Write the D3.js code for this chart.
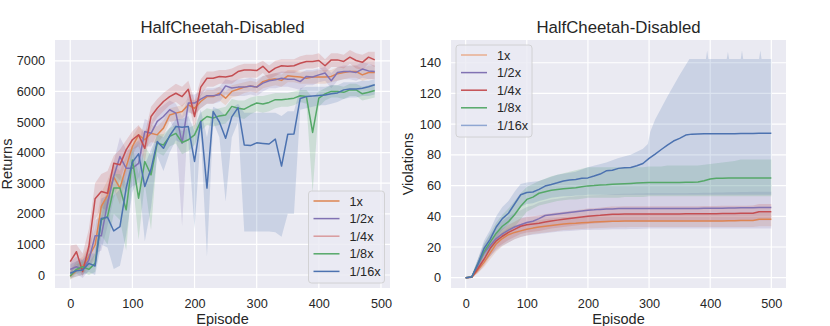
<!DOCTYPE html>
<html>
<head>
<meta charset="utf-8">
<script src="https://cdn.jsdelivr.net/npm/d3@7"></script>
<style>
  body { margin: 0; background: #fff; }
  svg { display: block; font-family: Arial, "Liberation Sans", sans-serif; }
</style>
</head>
<body>
<div id="chart"></div>
<script>
const seriesNames = ['1x', '1/2x', '1/4x', '1/8x', '1/16x'];
const seriesColors = ['#dd8452', '#8172b3', '#c44e52', '#55a868', '#4c72b0'];

// ---- returns (left) : every 10 episodes, 0..490
const returnsEp = d3.range(0, 500, 10);
const returnsXTicks = [0, 100, 200, 300, 400, 500];
const returnsYTicks = [0, 1000, 2000, 3000, 4000, 5000, 6000, 7000];

const returns1x = [-50,140,270,600,980,2240,2600,3200,2840,3540,
  4200,4580,4420,4630,4580,4800,5230,5290,5340,5560,
  5450,5670,5830,5830,5940,5780,6000,6070,6140,6180,
  6140,6320,6380,6410,6360,6510,6490,6470,6430,6470,
  6470,6470,6490,6580,6620,6650,6650,6540,6620,6620];
const returns1xLo = [-150,-50,0,250,500,1800,2200,2800,2300,3200,
  3900,4300,4100,4350,4300,4550,5000,5050,5100,5350,
  5200,5450,5600,5600,5700,5550,5800,5850,5950,6000,
  5950,6100,6150,6200,6150,6300,6300,6250,6250,6250,
  6250,6250,6300,6350,6400,6450,6450,6350,6400,6400];
const returns1xHi = [150,450,600,1000,1500,2700,3100,3600,3400,3900,
  4500,4850,4700,4900,4850,5050,5450,5500,5550,5750,
  5700,5900,6050,6050,6150,6000,6200,6250,6300,6350,
  6300,6500,6550,6600,6550,6700,6700,6650,6650,6650,
  6700,6700,6700,6800,6800,6850,6850,6750,6850,6850];

const returns2x = [185,270,185,490,1280,1280,2340,3220,3870,3490,
  3490,3650,4690,4630,5020,5180,5400,5290,4310,5620,
  5620,5750,5860,5860,5890,6180,6110,6140,6140,6180,
  6140,6270,6350,6380,6430,6400,6400,6320,6490,6470,
  6540,6600,6350,6620,6650,6650,6620,6730,6670,6650];
const returns2xLo = [0,50,-100,150,700,800,1600,2500,3100,2700,
  2900,3000,4200,4200,4600,4800,5050,4700,1600,5300,
  5250,5450,5600,5600,5650,5900,5850,5850,5850,5900,
  5850,6000,6100,6100,6150,6150,6100,6050,6200,6200,
  6300,6350,6100,6350,6400,6400,6350,6450,6400,6400];
const returns2xHi = [450,600,500,900,1800,1900,2900,3700,4500,4100,
  4100,4300,5100,5000,5400,5550,5700,5600,5200,5900,
  5900,6000,6100,6100,6150,6400,6350,6400,6400,6450,
  6400,6500,6550,6600,6650,6650,6650,6600,6700,6700,
  6750,6800,6600,6800,6850,6850,6850,6950,6900,6850];

const returns4x = [440,760,110,930,2490,2730,2670,3650,3600,4090,
  4420,4580,4140,5180,5450,5670,5830,5940,5830,6070,
  5180,6140,6430,6430,6490,6470,6510,6650,6700,6700,
  6680,6820,6620,6760,6840,6820,6840,6920,6980,6980,
  7010,6840,7030,7030,6980,7120,7010,6950,7120,7030];
const returns4xLo = [0,350,-50,500,1800,2200,2100,3300,3100,3700,
  4100,4200,3700,4850,5150,5350,5550,5650,5500,5750,
  4700,5850,6150,6150,6250,6250,6250,6400,6450,6450,
  6450,6600,6400,6500,6600,6600,6600,6700,6750,6750,
  6800,6600,6800,6800,6750,6900,6750,6700,6900,6800];
const returns4xHi = [960,1000,700,1500,3000,3300,3400,3900,4100,4400,
  4700,4900,4600,5500,5750,5950,6100,6250,6150,6350,
  5700,6400,6650,6650,6700,6700,6750,6850,6900,6900,
  6900,7000,6850,7000,7050,7050,7050,7150,7200,7200,
  7250,7050,7250,7250,7200,7350,7250,7200,7300,7300];

const returns8x = [-30,185,270,185,380,1800,1910,2840,2840,2130,
  3760,2510,3710,3270,4310,4250,4530,4630,4330,4420,
  4580,5020,5180,5130,5200,5230,5510,5450,5420,5530,
  5620,5590,5640,5730,5730,5750,5780,5860,5830,4660,
  5780,5920,6000,6000,5970,6050,6050,5920,5970,6030];
const returns8xLo = [-150,50,100,0,100,1300,1000,2000,1800,800,
  3200,1150,3000,1470,4000,3900,4200,4300,3950,4050,
  4250,4700,4900,4850,4900,4950,5200,5150,5100,5250,
  5350,5300,5350,5450,5500,5500,5550,5650,5600,2700,
  5500,5700,5800,5800,5750,5850,5850,5700,5750,5800];
const returns8xHi = [100,350,450,400,700,2300,2500,3300,3300,3000,
  4200,3300,4200,3900,4600,4600,4800,4900,4700,4800,
  4900,5300,5450,5400,5450,5500,5750,5700,5700,5800,
  5850,5850,5900,5950,5950,5950,6000,6050,6050,5800,
  6000,6100,6200,6200,6150,6250,6250,6150,6200,6250];

const returns16x = [55,140,165,380,295,1850,1890,1440,1580,2840,
  3690,3960,2890,3460,4360,4140,4550,4850,4830,4850,
  3710,5020,2840,5340,5000,4470,5170,5470,4250,4230,
  4320,4300,4280,4440,3560,4600,4610,5770,5830,5850,
  5870,5880,5920,5950,6050,6080,6080,6100,6150,6220];
const returns16xLo = [-100,-50,0,100,0,1000,900,200,300,1300,
  2700,3200,1100,2200,3900,3400,4000,4400,4300,4400,
  1500,4600,600,5000,4500,2400,4500,5000,1420,1420,
  1420,1420,1420,1400,1250,2000,2000,5400,5450,5500,
  5550,5550,5600,5650,5750,5800,5800,5850,5850,5900];
const returns16xHi = [350,450,500,700,700,2500,2600,2600,2800,3500,
  4200,4400,3600,4100,4600,4500,4800,5100,5100,5200,
  4700,5400,4500,5500,5400,5200,5450,5600,5300,5300,
  5300,5300,5300,5300,5200,5350,5350,6100,6150,6150,
  6150,6150,6200,6200,6300,6300,6300,6350,6350,6400];

// ---- violations (right) : every 10 episodes, 0..500
const violEp = d3.range(0, 510, 10);
const violXTicks = [0, 100, 200, 300, 400, 500];
const violYTicks = [0, 20, 40, 60, 80, 100, 120, 140];

const viol1x = [0,0.3,5,10,16,22,25.5,28,29.5,30.5,
  31.5,32.3,33,33.5,34,34.5,35,35.3,35.5,35.8,
  36,36.2,36.4,36.6,36.7,36.8,36.9,37,37,37,
  37,37,37,37,37,37,37,37,37,37,
  37,37,37,37.1,37.1,37.2,37.2,37.3,38,38,38];
const viol1xLo = [0,0,3,7,12,17,20.5,23,25,26.5,
  27.5,28.5,29,29.5,30,30.5,31,31.3,31.5,31.8,
  32,32.2,32.4,32.6,32.7,32.8,32.9,33,33,33,
  33,33,33,33,33,33,33,33,33,33,
  33,33,33,33,33,33,33,33,33.5,33.5,33.5];
const viol1xHi = [0,1,7,13,20,26,30,32.5,34,35,
  36,36.8,37.5,38,38.5,39,39.5,39.8,40,40.3,
  40.5,40.7,40.9,41,41,41.1,41.2,41.3,41.3,41.3,
  41.3,41.3,41.3,41.3,41.3,41.3,41.3,41.3,41.3,41.3,
  41.3,41.3,41.3,41.4,41.4,41.5,41.5,41.6,42.3,42.3,42.3];

const viol2x = [0,0.5,8,16,21,25.5,28.5,31,33,34.5,
  36,36.8,38.5,40.5,41,41.5,42,42.5,43,43.5,
  44,44.2,44.5,44.7,44.8,45,45,45,45,45,
  45,45,45,45,45,45,45,45.1,45.1,45.2,
  45.2,45.3,45.3,45.4,45.4,45.5,45.5,45.6,45.7,45.8,45.8];
const viol2xLo = [0,0,4,10,14,18,21,23,25,26.5,
  27.5,28,28.5,29,29.5,30,30.3,30.5,30.8,31,
  31,31.2,31.3,31.4,31.5,31.5,31.6,31.7,31.8,31.9,
  32,32,32,32,32,32,32,32,32,32,
  32,32,32,32,32,32,32,32,32,32,32];
const viol2xHi = [0,1.5,12,22,28,33,37,40,42,44,
  46,47,49,50,51,51.5,52,52.5,53,53.2,
  53.5,53.7,53.9,54.1,54.3,54.5,54.6,54.7,54.8,54.9,
  55,55,55,55,55,55,55,55.1,55.2,55.3,
  55.4,55.5,55.5,55.6,55.7,55.8,55.8,55.9,56,56,56];

const viol4x = [0,0.3,6,12,19,24,27,29.5,31.5,33.5,
  34.5,35,35.5,36.3,37,37.5,38,38.5,39,39.5,
  40,40.3,40.6,41,41.3,41.4,41.5,41.5,41.5,41.5,
  41.5,41.5,41.5,41.5,41.5,41.5,41.6,41.6,41.6,41.7,
  41.7,41.7,41.8,41.8,41.8,41.9,41.9,42,43,43,43];
const viol4xLo = [0,0,3,8,14,19,22,24.5,26.5,28.5,
  29.5,30,30.5,31.3,32,32.5,33,33.5,34,34.5,
  35,35.3,35.6,36,36.3,36.4,36.5,36.5,36.5,36.5,
  36.5,36.5,36.5,36.5,36.5,36.5,36.6,36.6,36.6,36.7,
  36.7,36.7,36.8,36.8,36.8,36.9,36.9,37,37.5,37.5,37.5];
const viol4xHi = [0,1,9,16,24,29,32,34.5,36.5,38.5,
  39.5,40,40.5,41.3,42,42.5,43,43.5,44,44.5,
  45,45.3,45.6,46,46.3,46.4,46.5,46.5,46.5,46.5,
  46.5,46.5,46.5,46.5,46.5,46.5,46.6,46.6,46.6,46.7,
  46.7,46.7,46.8,46.8,46.8,46.9,46.9,47,48,48,48];

const viol8x = [0,0.5,9,17,23,29,33.5,36.5,41,46.5,
  51,52.5,55,56,57,57.5,58,58.3,58.6,59.2,
  59.8,60,60.3,60.5,60.8,61,61.2,61.4,61.6,61.8,
  62,62,62,62,62,62,62.1,62.2,62.4,63.2,
  64.3,64.7,64.8,64.9,65,65,65,65,65,65,65];
const viol8xLo = [0,0,6,12,17,22,26,29,33,38,
  43,45,47,48,49,50,50.5,51,51,51.5,
  52,52,52,52,52,52,52.5,52.5,52.5,52.5,
  53,53,53,53,53,53,53,53,53,53,
  53,53,53,53,53,53,53,53,53,53,53];
const viol8xHi = [0,1.5,12,22,29,36,41,45,50,55,
  59,61,63,64.5,66,67,68,69,70,71,
  72,72,72,72,72,72,72,72,72,72,
  72.5,72.5,72.5,73,73,73,73,73,73,73.5,
  74,74.5,75,75.5,76,77,77,77,77,77,77];

const viol16x = [0,0.5,9,19,25,33,38.5,42,48,54,
  55.5,55.8,57.5,59.7,60.7,61.8,63,63.6,64,64.7,
  65,66.2,67.5,69.6,70,71.2,71.6,71.8,72.9,74.4,
  77.7,80.5,83.5,86.3,89,90.7,92.9,93.5,93.6,93.7,
  93.7,93.7,93.8,93.8,93.8,93.9,93.9,93.9,94,94,94];
const viol16xLo = [0,0,6,14,19,26,31,35,41,46,
  48,48.5,50,51,52,52.5,53,53,53.5,53.5,
  54,54,54,54,54,54,54,54,54,54,
  54,54,54,54,54,54,54,54,54,54,
  54,54,54,54,54,54,54,54,54,54,54];
// the 1/16x upper band has its own sampling (sharp spikes late on)
const viol16xHiEp = [0,10,20,30,40,50,60,70,80,90,100,120,150,180,200,230,250,270,290,
  298,302,310,330,350,366,380,393,395,397,427,429,431,450,452,454,480,482,484,500];
const viol16xHi = [0,1.5,12,24,31,40,46,50,56,61,62,63,67,69,72,75,78,80,84,
  87,95,103,118,132,142.5,142.5,142.5,148,142.5,142.5,147,142.5,142.5,148,142.5,142.5,148,142.5,142.5];

const returnsLegendColors = ['#dd8452', '#8172b3', '#d99a9c', '#55a868', '#4c72b0'];
const violLegendColors = ['#e8ae8f', '#8172b3', '#c44e52', '#55a868', '#8fa6d2'];

function band(ep, lo, hi) {
    return {loEp: ep, lo: lo, hiEp: ep, hi: hi};
}

const returnsSeries = [
    {mean: returns1x, band: band(returnsEp, returns1xLo, returns1xHi)},
    {mean: returns2x, band: band(returnsEp, returns2xLo, returns2xHi)},
    {mean: returns4x, band: band(returnsEp, returns4xLo, returns4xHi)},
    {mean: returns8x, band: band(returnsEp, returns8xLo, returns8xHi)},
    {mean: returns16x, band: band(returnsEp, returns16xLo, returns16xHi)}
];
const violSeries = [
    {mean: viol1x, band: band(violEp, viol1xLo, viol1xHi)},
    {mean: viol2x, band: band(violEp, viol2xLo, viol2xHi)},
    {mean: viol4x, band: band(violEp, viol4xLo, viol4xHi)},
    {mean: viol8x, band: band(violEp, viol8xLo, viol8xHi)},
    {mean: viol16x, band: {loEp: violEp, lo: viol16xLo, hiEp: viol16xHiEp, hi: viol16xHi}}
];

const svg = d3.select('#chart').append('svg')
    .attr('width', 830)
    .attr('height', 326);

function drawPanel(cfg) {
    let x = d3.scaleLinear().domain(cfg.xDomain).range([cfg.left, cfg.right]);
    let y = d3.scaleLinear().domain(cfg.yDomain).range([cfg.bottom, cfg.top]);
    let g = svg.append('g');

    g.append('rect')
        .attr('x', cfg.left).attr('y', cfg.top)
        .attr('width', cfg.right - cfg.left).attr('height', cfg.bottom - cfg.top)
        .attr('fill', '#eaeaf2');

    g.selectAll('.gx').data(cfg.xTicks).enter().append('line')
        .attr('x1', d => x(d)).attr('x2', d => x(d))
        .attr('y1', cfg.top).attr('y2', cfg.bottom)
        .attr('stroke', '#fff').attr('stroke-width', 1.2);
    g.selectAll('.gy').data(cfg.yTicks).enter().append('line')
        .attr('x1', cfg.left).attr('x2', cfg.right)
        .attr('y1', d => y(d)).attr('y2', d => y(d))
        .attr('stroke', '#fff').attr('stroke-width', 1.2);

    let xAxis = g.append('g')
        .attr('transform', 'translate(0,' + cfg.bottom + ')')
        .call(d3.axisBottom(x).tickValues(cfg.xTicks).tickSize(0).tickPadding(11));
    let yAxis = g.append('g')
        .attr('transform', 'translate(' + cfg.left + ',0)')
        .call(d3.axisLeft(y).tickValues(cfg.yTicks).tickSize(0).tickPadding(10).tickFormat(d3.format('d')));
    [xAxis, yAxis].forEach(a => {
        a.select('.domain').remove();
        a.selectAll('text')
            .style('font-family', 'Arial, "Liberation Sans", sans-serif')
            .style('font-size', '12.7px')
            .attr('fill', '#262626');
    });

    let clipId = 'clip' + cfg.left;
    svg.append('clipPath').attr('id', clipId).append('rect')
        .attr('x', cfg.left).attr('y', cfg.top)
        .attr('width', cfg.right - cfg.left).attr('height', cfg.bottom - cfg.top);
    let plot = g.append('g').attr('clip-path', 'url(#' + clipId + ')');

    let poly = d3.line().x(d => x(d[0])).y(d => y(d[1]));
    let line = d3.line().x(d => x(d[0])).y(d => y(d[1]));

    cfg.series.forEach((s, i) => {
        let b = s.band;
        let pts = d3.zip(b.hiEp, b.hi).concat(d3.zip(b.loEp, b.lo).reverse());
        plot.append('path')
            .attr('d', poly(pts) + 'Z')
            .attr('fill', seriesColors[i])
            .attr('fill-opacity', 0.2)
            .attr('stroke', 'none');
    });
    cfg.series.forEach((s, i) => {
        plot.append('path')
            .attr('d', line(d3.zip(cfg.ep, s.mean)))
            .attr('fill', 'none')
            .attr('stroke', seriesColors[i])
            .attr('stroke-width', 1.5)
            .attr('stroke-linejoin', 'round');
    });

    g.append('text')
        .attr('x', (cfg.left + cfg.right) / 2)
        .attr('y', 33)
        .attr('text-anchor', 'middle')
        .style('font-size', '16.8px')
        .attr('fill', '#262626')
        .text(cfg.title);
    g.append('text')
        .attr('x', (cfg.left + cfg.right) / 2)
        .attr('y', 324)
        .attr('text-anchor', 'middle')
        .style('font-size', '14.5px')
        .attr('fill', '#262626')
        .text('Episode');
    g.append('text')
        .attr('transform', 'translate(' + cfg.ylabelX + ',' + ((cfg.top + cfg.bottom) / 2) + ') rotate(-90)')
        .attr('text-anchor', 'middle')
        .style('font-size', '14.5px')
        .attr('fill', '#262626')
        .text(cfg.ylabel);

    let lg = cfg.legend;
    let leg = g.append('g');
    leg.append('rect')
        .attr('x', lg.x).attr('y', lg.y)
        .attr('width', lg.w).attr('height', lg.h)
        .attr('rx', 3)
        .attr('fill', '#eaeaf2').attr('fill-opacity', 0.8)
        .attr('stroke', '#cccccc').attr('stroke-width', 0.8);
    seriesNames.forEach((name, i) => {
        let yy = lg.y + 10 + i * 17.6;
        leg.append('line')
            .attr('x1', lg.x + 5).attr('x2', lg.x + 31)
            .attr('y1', yy).attr('y2', yy)
            .attr('stroke', lg.colors[i]).attr('stroke-width', 1.5);
        leg.append('text')
            .attr('x', lg.x + 41).attr('y', yy)
            .attr('dy', '0.36em')
            .style('font-size', '12.7px')
            .attr('fill', '#262626')
            .text(name);
    });
}

drawPanel({
    left: 55, right: 390, top: 40, bottom: 288,
    xDomain: [-24.5, 514.5], yDomain: [-425, 7680],
    xTicks: returnsXTicks, yTicks: returnsYTicks,
    ep: returnsEp, series: returnsSeries,
    title: 'HalfCheetah-Disabled', ylabel: 'Returns', ylabelX: 12,
    legend: {x: 308.5, y: 191, w: 76, h: 92, colors: returnsLegendColors}
});

drawPanel({
    left: 451, right: 786, top: 40, bottom: 288,
    xDomain: [-24, 524], yDomain: [-6.7, 154.8],
    xTicks: violXTicks, yTicks: violYTicks,
    ep: violEp, series: violSeries,
    title: 'HalfCheetah-Disabled', ylabel: 'Violations', ylabelX: 413,
    legend: {x: 456, y: 45, w: 76, h: 92, colors: violLegendColors}
});
</script>
</body>
</html>
